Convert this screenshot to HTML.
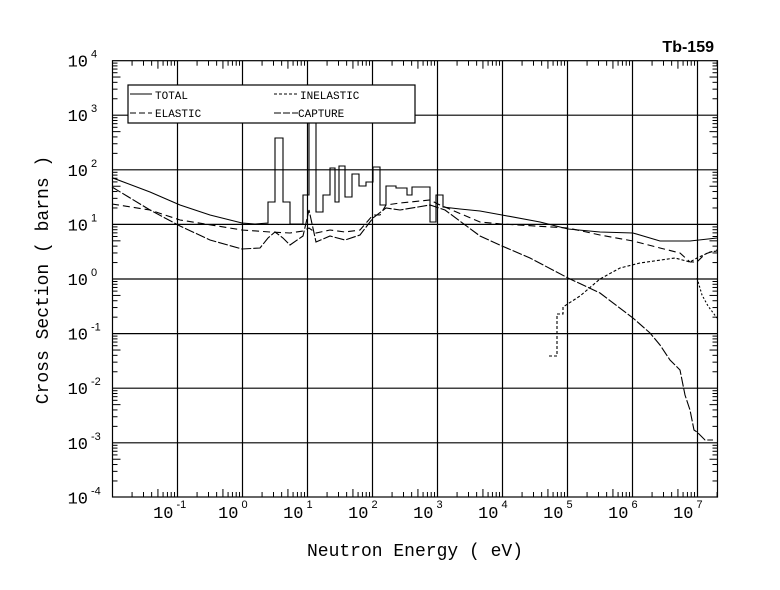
<!DOCTYPE html><html><head><style>body{margin:0;background:#fff}svg{display:block}</style></head><body>
<svg id="s" width="780" height="590" xmlns="http://www.w3.org/2000/svg" font-family="Liberation Sans, sans-serif"></svg>
<script>
const X=l=>242.5+65*l, Y=l=>279-54.6*l;
const L=112.5,R=717.5,T=60.7,B=497;
let o='<rect x="0" y="0" width="780" height="590" fill="#fff"/>';
o+=`<rect x="${L}" y="${T}" width="${R-L}" height="${B-T}" fill="none" stroke="#000" stroke-width="1.2"/>`;
for(let d=-1;d<=7;d++){o+=`<line x1="${X(d)}" y1="${T}" x2="${X(d)}" y2="${B}" stroke="#000" stroke-width="1.2"/>`;
 o+=`<text x="${X(d)-4}" y="518" font-size="17" text-anchor="end" font-family="Liberation Mono,monospace">10</text><text x="${X(d)-1}" y="508" font-size="11">${d}</text>`;}
for(let d=-2;d<=7;d++)for(let k=2;k<=9;k++){let x=X(d+Math.log10(k));if(x<L||x>R)continue;let h=(k==5)?8:5;o+=`<line x1="${x}" y1="${B}" x2="${x}" y2="${B-h}" stroke="#000"/><line x1="${x}" y1="${T}" x2="${x}" y2="${T+h}" stroke="#000"/>`;}
for(let d=-4;d<=4;d++){let y=Y(d);if(d>-4&&d<4)o+=`<line x1="${L}" y1="${y}" x2="${R}" y2="${y}" stroke="#000" stroke-width="1.2"/>`;
 o+=`<text x="88" y="${y+6}" font-size="17" text-anchor="end" font-family="Liberation Mono,monospace">10</text><text x="91" y="${y-3}" font-size="11">${d}</text>`;
 if(d<4)for(let k=2;k<=9;k++){let yy=Y(d+Math.log10(k));let h=(k==5)?8:5;o+=`<line x1="${L}" y1="${yy}" x2="${L+h}" y2="${yy}" stroke="#000"/><line x1="${R}" y1="${yy}" x2="${R-h}" y2="${yy}" stroke="#000"/>`;}}
function P(pts,dash){let s='M'+pts.map(p=>p.join(',')).join('L');o+=`<path d="${s}" fill="none" stroke="#000" stroke-width="1.1" ${dash?'stroke-dasharray="'+dash+'"':''}/>`;}
function step(xs,ys){let p=[];for(let i=0;i<ys.length;i++){p.push([xs[i],ys[i]]);p.push([xs[i+1],ys[i]]);}return p;}
P([[112,177.7],[150,192],[180,205],[210,215],[242,223],[255,224],[268,223]].concat(
 step([268,275,283,290,303,309,316,323,330,335,339,345,352,359,366,373,380,386,396,407,412,430,436,443],
 [202,138,202,224,195,123,212,195,168,202,166,197,174,186,182,167,205,186,188,195,187,222,195])).concat(
 [[443,207],[460,209],[480,211],[502,215],[540,222],[568,229],[600,232],[633,233],[660,241],[690,241],[717,238]]));
P([[112,204],[150,210],[180,220],[242,230],[270,232],[290,233],[303,231],[309,228],[316,233],[330,230],[345,232],[360,230],[373,215],[380,215],[386,205],[400,203],[430,200],[440,205],[480,222],[502,224],[568,228],[600,235],[633,241],[660,248],[680,253],[690,262],[697,262],[705,254],[717,250]],"7,4");
P([[112,187],[150,210],[180,226],[210,240],[242,249],[260,248],[268,238],[275,232],[283,238],[290,245],[303,236],[309,210],[316,242],[330,236],[345,240],[360,235],[373,218],[386,208],[400,210],[430,205],[445,210],[480,236],[502,246],[530,258],[568,278],[600,293],[633,318],[650,333],[660,345],[670,360],[680,370],[685,395],[690,410],[694,430],[697,432],[705,440],[713,440]],"10,2");
P([[549,356],[557,356],[557,314],[563,314],[563,307],[580,296],[600,279],[620,268],[640,263],[675,258],[690,262],[697,258],[710,252],[717,251]],"3,2");
P([[697,278],[702,295],[708,306],[717,318]],"2,2");
o+=`<rect x="128" y="85" width="287" height="38" fill="#fff" stroke="#000" stroke-width="1.2"/>`;
o+=`<line x1="130" y1="94" x2="152" y2="94" stroke="#000"/><text x="155" y="99" font-size="11" font-family="Liberation Mono,monospace">TOTAL</text>`;
o+=`<line x1="130" y1="113" x2="152" y2="113" stroke="#000" stroke-dasharray="6,3"/><text x="155" y="117" font-size="11" font-family="Liberation Mono,monospace">ELASTIC</text>`;
o+=`<line x1="274" y1="94" x2="298" y2="94" stroke="#000" stroke-dasharray="3,2"/><text x="300" y="99" font-size="11" font-family="Liberation Mono,monospace">INELASTIC</text>`;
o+=`<line x1="274" y1="113" x2="298" y2="113" stroke="#000" stroke-dasharray="7,2"/><text x="298" y="117" font-size="11" font-family="Liberation Mono,monospace">CAPTURE</text>`;
o+=`<text x="714" y="52" font-size="16" font-weight="bold" text-anchor="end">Tb-159</text>`;
o+=`<text x="415" y="556" font-size="18" text-anchor="middle" font-family="Liberation Mono,monospace">Neutron Energy ( eV)</text>`;
o+=`<text transform="translate(48,280) rotate(-90)" font-size="18" text-anchor="middle" font-family="Liberation Mono,monospace">Cross Section ( barns )</text>`;
document.getElementById('s').innerHTML=o;
</script></body></html>
